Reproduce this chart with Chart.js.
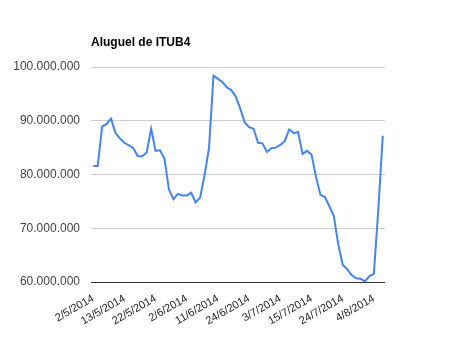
<!DOCTYPE html>
<html><head><meta charset="utf-8">
<script src="https://cdn.jsdelivr.net/npm/chart.js@4"></script>
<style>html,body{margin:0;padding:0;background:#fff}</style>
</head>
<body>
<canvas id="c" width="475" height="349"></canvas>
<script>
const chartTitle = 'Aluguel de ITUB4';
const dates = [
 '2/5/2014','5/5/2014','6/5/2014','7/5/2014','8/5/2014','9/5/2014','12/5/2014',
 '13/5/2014','14/5/2014','15/5/2014','16/5/2014','19/5/2014','20/5/2014','21/5/2014',
 '22/5/2014','23/5/2014','26/5/2014','27/5/2014','28/5/2014','29/5/2014','30/5/2014',
 '2/6/2014','3/6/2014','4/6/2014','5/6/2014','6/6/2014','9/6/2014','10/6/2014',
 '11/6/2014','13/6/2014','16/6/2014','17/6/2014','18/6/2014','20/6/2014','23/6/2014',
 '24/6/2014','25/6/2014','26/6/2014','27/6/2014','30/6/2014','1/7/2014','2/7/2014',
 '3/7/2014','4/7/2014','7/7/2014','8/7/2014','10/7/2014','11/7/2014','14/7/2014',
 '15/7/2014','16/7/2014','17/7/2014','18/7/2014','21/7/2014','22/7/2014','23/7/2014',
 '24/7/2014','25/7/2014','28/7/2014','29/7/2014','30/7/2014','31/7/2014','1/8/2014',
 '4/8/2014','5/8/2014','6/8/2014'
];
const shownLabels = ['2/5/2014','13/5/2014','22/5/2014','2/6/2014','11/6/2014','24/6/2014','3/7/2014','15/7/2014','24/7/2014','4/8/2014'];
const aluguel = [
 81600000, 81600000, 88900000, 89400000, 90400000, 87700000, 86700000,
 85900000, 85400000, 84900000, 83400000, 83400000, 84100000, 88500000,
 84400000, 84500000, 82900000, 77200000, 75400000, 76400000, 76100000,
 76100000, 76600000, 74800000, 75700000, 79900000, 85000000, 98400000,
 97800000, 97200000, 96200000, 95700000, 94500000, 92300000, 89700000,
 88800000, 88500000, 85900000, 85800000, 84200000, 84900000, 85000000,
 85500000, 86200000, 88400000, 87700000, 87900000, 83800000, 84400000,
 83700000, 79600000, 76200000, 75800000, 74100000, 72300000, 67000000,
 63200000, 62400000, 61300000, 60700000, 60600000, 60100000, 61100000,
 61500000, 73500000, 87200000
];
const yMin = 60000000, yMax = 100000000, yStep = 10000000;

function fmt(v){ return String(Math.round(v)).replace(/\B(?=(\d{3})+(?!\d))/g, '.'); }

const titlePlugin = {
  id: 'leftTitle',
  afterDraw(chart){
    const ctx = chart.ctx;
    ctx.save();
    ctx.font = 'bold 12px Arial, "Liberation Sans", sans-serif';
    ctx.fillStyle = '#000';
    ctx.textBaseline = 'alphabetic';
    ctx.textAlign = 'left';
    ctx.fillText(chartTitle, chart.chartArea.left, 46);
    ctx.restore();
  }
};

new Chart(document.getElementById('c'), {
  type: 'line',
  data: {
    labels: dates,
    datasets: [{
      data: aluguel,
      borderColor: '#4684ee',
      borderWidth: 2,
      pointRadius: 0,
      tension: 0,
      fill: false
    }]
  },
  options: {
    responsive: false,
    animation: false,
    devicePixelRatio: 1,
    layout: { padding: { top: 67, right: 90, left: 0, bottom: 0 } },
    plugins: { legend: { display: false }, tooltip: { enabled: false }, title: { display: false } },
    scales: {
      x: {
        type: 'category',
        offset: true,
        grid: { display: false, drawTicks: false },
        border: { display: false },
        ticks: {
          autoSkip: false,
          maxRotation: 30,
          minRotation: 30,
          padding: 10,
          color: '#222',
          font: { family: 'Arial, "Liberation Sans", sans-serif', size: 11 },
          callback: function(v, i){ const l = dates[i]; return shownLabels.includes(l) ? l : ''; }
        },
        afterFit(s){ s.height = 67; }
      },
      y: {
        min: yMin, max: yMax,
        grid: {
          drawTicks: false,
          color: (c) => (c.tick && c.tick.value === yMin) ? '#333' : '#cccccc',
          lineWidth: 1
        },
        border: { display: false },
        ticks: {
          stepSize: yStep,
          padding: 11,
          color: '#444',
          font: { family: 'Arial, "Liberation Sans", sans-serif', size: 12 },
          callback: (v) => fmt(v)
        },
        afterFit(s){ s.width = 91; }
      }
    }
  },
  plugins: [titlePlugin]
});
</script>
</body></html>
